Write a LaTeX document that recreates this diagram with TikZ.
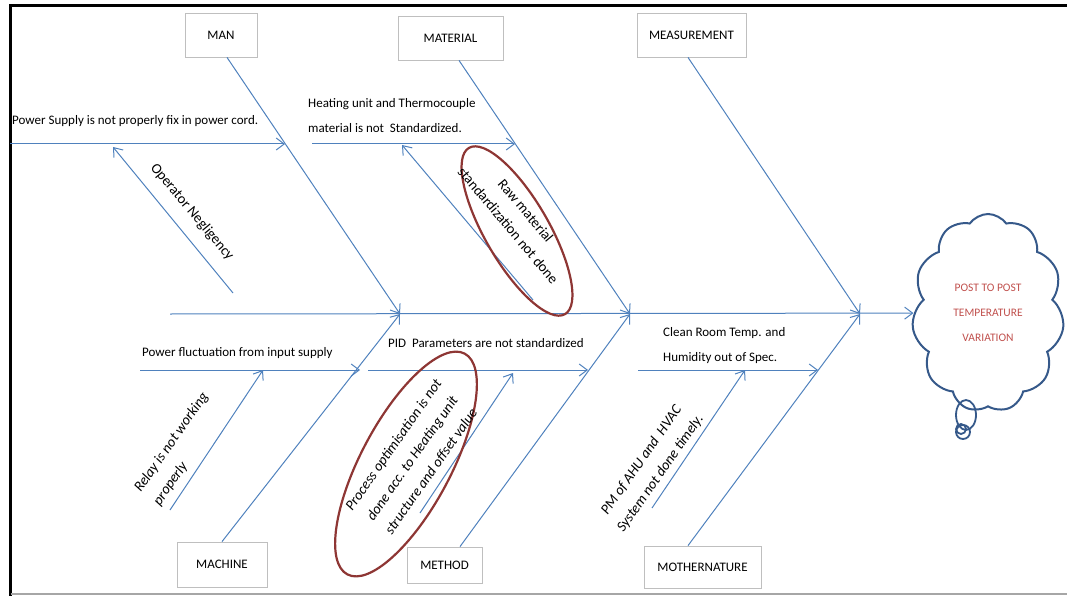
\documentclass[tikz,border=0pt]{standalone}
\usepackage{fontspec}
\setmainfont{Carlito}
\usepackage{tikz}
\usetikzlibrary{arrows.meta,shapes.geometric,shapes.symbols}

\definecolor{bonecol}{HTML}{4F81BD}
\definecolor{boxcol}{HTML}{BFBFBF}
\definecolor{ovalcol}{HTML}{8E3634}
\definecolor{cloudcol}{HTML}{36598A}
\definecolor{effectcol}{HTML}{C0504D}

\tikzset{
  catbox/.style 2 args={draw=boxcol, line width=0.8, minimum width=#1, minimum height=#2,
    inner sep=0, font=\fontsize{13}{15}\selectfont},
  bone/.style={draw=bonecol, line width=1, -{Straight Barb[length=8,width=12]}},
  lbl/.style={inner sep=0, align=left, font=\fontsize{13}{25}\selectfont},
  tiltlbl/.style={inner sep=0, align=center, font=\fontsize{14.5}{23}\selectfont},
  slantlbl/.style={inner sep=0, align=center, font=\itshape\fontsize{14.5}{23}\selectfont},
  oval/.style={draw=ovalcol, line width=2.2, ellipse, inner sep=0},
  effectcloud/.style={cloud, cloud puffs=11, cloud puff arc=110, aspect=0.77, draw=cloudcol,
    line width=2, minimum width=152, minimum height=198, inner sep=0, align=center,
    text=effectcol, font=\fontsize{11.5}{25}\selectfont}
}

\begin{document}
\begin{tikzpicture}[x=1pt, y=-1pt]
        \useasboundingbox (0,0) rectangle (1067,596);
        % frame
        \draw[line width=3] (10.5,596) -- (10.5,6) -- (1067,6);
        \draw[gray!70, line width=2] (10.5,594) -- (1067,594);

        % categories
        \node[catbox={72}{44}] (man) at (221,35) {MAN};
        \node[catbox={105}{44}] (material) at (450.5,38) {MATERIAL};
        \node[catbox={109}{44}] (measurement) at (691.5,35) {MEASUREMENT};
        \node[catbox={90}{45}] (machine) at (222,564.5) {MACHINE};
        \node[catbox={75}{36}] (method) at (444.5,565) {METHOD};
        \node[catbox={117}{42}] (mothernature) at (702.5,567) {MOTHERNATURE};

        % effect
        \node[effectcloud] (effect) at (988,313) {POST TO POST\\TEMPERATURE\\VARIATION};
        \draw[cloudcol, line width=1.8] (966,415) ellipse [x radius=10, y radius=15];
        \draw[cloudcol, line width=1.8] (963,432) circle [radius=7];
        \draw[cloudcol, line width=1.8] (961,429) circle [radius=5];

        % spine and bones
        \coordinate (spine) at (170,314);
        \coordinate (jman) at (400,314);
        \coordinate (jmat) at (630,314);
        \coordinate (jmeas) at (860,314);
        \draw[bone] (spine) -- (effect);
        \draw[bone] ([xshift=6]man.south) -- (jman);
        \draw[bone] ([xshift=8.5]material.south) -- (jmat);
        \draw[bone] ([xshift=-3.5]measurement.south) -- (jmeas);
        \draw[bone] (machine.north) -- (jman);
        \draw[bone] ([xshift=15.5]method.north) -- (jmat);
        \draw[bone] ([xshift=-14.5]mothernature.north) -- (jmeas);

        % causes
        \coordinate (ps0) at (10,144);   \coordinate (ps1) at (285,144);
        \coordinate (op0) at (233,293);  \coordinate (op1) at (113,147);
        \coordinate (ht0) at (312,144);  \coordinate (ht1) at (515,144);
        \coordinate (rw0) at (533,300);  \coordinate (rw1) at (402,145);
        \coordinate (pf0) at (140,370);  \coordinate (pf1) at (360,370);
        \coordinate (rl0) at (170,510);  \coordinate (rl1) at (263,370);
        \coordinate (pd0) at (368,370);  \coordinate (pd1) at (588,370);
        \coordinate (pr0) at (420,513);  \coordinate (pr1) at (513,373);
        \coordinate (cl0) at (638,370);  \coordinate (cl1) at (818,370);
        \coordinate (pm0) at (652,508);  \coordinate (pm1) at (745,370);
        \foreach \s in {ps,op,ht,rw,pf,rl,pd,pr,cl,pm}
          \draw[bone] (\s0) -- (\s1);

        \node[oval, rotate=-60, minimum width=192, minimum height=64] (rawoval) at (517,231) {};
        \node[oval, rotate=62, minimum width=250, minimum height=90] (procoval) at (406,464) {};

        \node[lbl, anchor=west] (pstext) at (12,121) {Power Supply is not properly fix in power cord.};
        \node[tiltlbl, rotate=-50] (optext) at (192,212) {Operator Negligency};
        \node[lbl, anchor=west] (httext) at (308,115.5) {Heating unit and Thermocouple\\material is not~ Standardized.};
        \node[tiltlbl, rotate=-50] (rwtext) at (517,218) {Raw material\\standardization not done};
        \node[lbl, anchor=west] (pftext) at (142,353) {Power fluctuation from input supply};
        \node[slantlbl, align=left, rotate=55] (rltext) at (181,449) {Relay is not working\\properly};
        \node[lbl, anchor=west] (pdtext) at (388,343) {PID~ Parameters are not standardized};
        \node[slantlbl, rotate=55] (prtext) at (412,458) {Process optimisation is not\\done acc. to Heating unit\\structure and offset value};
        \node[lbl, anchor=west] (cltext) at (663,346) {Clean Room Temp. and\\Humidity out of Spec.};
        \node[slantlbl, rotate=55] (pmtext) at (651,467) {PM of AHU and~ HVAC\\System not done timely.};
      \end{tikzpicture}
\end{document}
